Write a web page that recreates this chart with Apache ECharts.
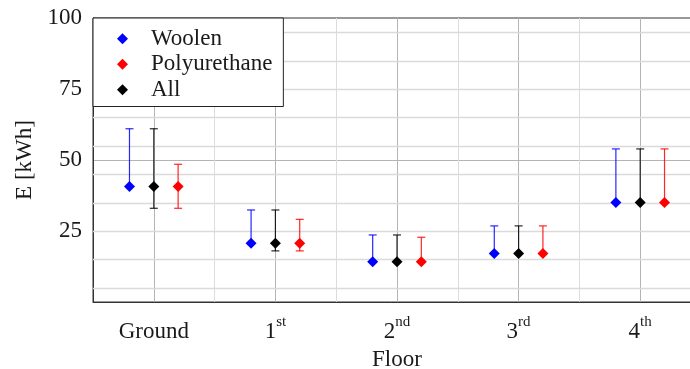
<!DOCTYPE html>
<html>
<head>
<meta charset="utf-8">
<script src="https://cdn.jsdelivr.net/npm/echarts@6/dist/echarts.min.js"></script>
<style>
  html, body { margin: 0; padding: 0; background: #fff; }
  #chart { width: 690px; height: 369px; }
</style>
</head>
<body>
<div id="chart"></div>
<script>
// Floor names (base text + ordinal suffix drawn as superscript)
const floorBase = ['Ground', '1', '2', '3', '4'];
const floorSuffix = ['', 'st', 'nd', 'rd', 'th'];

// Energy per floor [kWh]: mean, lower and upper end of the range
const woolenMean = [40.7, 20.7, 14.2, 17.1, 35.0];
const woolenLow  = [40.7, 20.7, 14.2, 17.1, 35.0];
const woolenHigh = [61.0, 32.4, 23.6, 26.8, 53.9];

const polyMean = [40.7, 20.7, 14.2, 17.1, 35.0];
const polyLow  = [33.0, 18.0, 14.2, 17.1, 35.0];
const polyHigh = [48.5, 29.1, 22.8, 26.8, 53.9];

const allMean = [40.7, 20.7, 14.2, 17.1, 35.0];
const allLow  = [33.0, 18.0, 14.2, 17.1, 35.0];
const allHigh = [61.0, 32.4, 23.6, 26.8, 53.9];

// Value axis ticks and the fine background grid
const yTickLabels = [25, 50, 75, 100];
const yMinorGrid = [5, 15, 25, 35, 45, 55, 65, 75, 85, 95];

const FONT = 'Liberation Serif';
const TEXT = '#1a1a1a';

const groups = [
  { name: 'Woolen',       color: '#0000ff', shift: -0.2, mean: woolenMean, low: woolenLow, high: woolenHigh },
  { name: 'All',          color: '#000000', shift:  0.0, mean: allMean,    low: allLow,    high: allHigh },
  { name: 'Polyurethane', color: '#ff0000', shift:  0.2, mean: polyMean,   low: polyLow,   high: polyHigh }
];

const series = [];

// fine horizontal grid lines
series.push({
  type: 'custom',
  name: 'minor-grid',
  silent: true,
  z: 1,
  data: yMinorGrid.map(v => [-0.5, v]),
  encode: { x: 0, y: 1 },
  renderItem(params, api) {
    const cs = params.coordSys;
    const p = api.coord([api.value(0), api.value(1)]);
    const y = Math.round(p[1]) + 0.5;
    return {
      type: 'line',
      shape: { x1: cs.x, y1: y, x2: cs.x + cs.width, y2: y },
      style: { stroke: '#dadada', lineWidth: 1.5 }
    };
  }
});

groups.forEach(g => {
  const errData = g.mean.map((m, i) => [i + g.shift, g.low[i], g.high[i], m]);
  series.push({
    type: 'custom',
    name: g.name + ' range',
    silent: true,
    z: 3,
    data: errData,
    encode: { x: 0, y: [1, 2] },
    renderItem(params, api) {
      const x = api.value(0);
      const lo = api.value(1), hi = api.value(2), m = api.value(3);
      const pHi = api.coord([x, hi]);
      const pLo = api.coord([x, lo]);
      const cap = 4;
      const st = { stroke: g.color, lineWidth: 1.2, opacity: 0.85 };
      const children = [
        { type: 'line', shape: { x1: pHi[0], y1: pHi[1], x2: pLo[0], y2: pLo[1] }, style: st },
        { type: 'line', shape: { x1: pHi[0] - cap, y1: pHi[1], x2: pHi[0] + cap, y2: pHi[1] }, style: st }
      ];
      if (lo < m) {
        children.push({ type: 'line', shape: { x1: pLo[0] - cap, y1: pLo[1], x2: pLo[0] + cap, y2: pLo[1] }, style: st });
      }
      return { type: 'group', children };
    }
  });
  series.push({
    type: 'scatter',
    name: g.name,
    symbol: 'diamond',
    symbolSize: 11,
    z: 5,
    itemStyle: { color: g.color, opacity: 1 },
    data: g.mean.map((m, i) => [i + g.shift, m])
  });
});

const chart = echarts.init(document.getElementById('chart'), null, { renderer: 'canvas' });
chart.setOption({
  animation: false,
  backgroundColor: '#fff',
  grid: {
    left: 93, top: 18, right: -11, bottom: 67,
    show: true, borderColor: '#333', borderWidth: 1, backgroundColor: 'transparent',
    containLabel: false, outerBoundsMode: 'none'
  },
  legend: {
    data: ['Woolen', 'Polyurethane', 'All'],
    orient: 'vertical',
    left: 93, top: 18,
    icon: 'diamond',
    itemWidth: 11, itemHeight: 11,
    itemGap: 2,
    padding: [9, 11, 5, 24],
    backgroundColor: '#fff',
    borderColor: '#222', borderWidth: 1, borderRadius: 0,
    z: 10,
    textStyle: { fontFamily: FONT, fontSize: 23, color: TEXT, lineHeight: 23.5, padding: [0, 0, 0, 18] }
  },
  xAxis: {
    type: 'value',
    min: -0.5, max: 4.5, interval: 0.5,
    name: 'Floor', nameLocation: 'middle', nameGap: 40,
    nameTextStyle: { fontFamily: FONT, fontSize: 23, color: TEXT, lineHeight: 24 },
    axisLine: { show: true, onZero: false, lineStyle: { color: '#333', width: 1 } },
    axisTick: { show: false },
    splitLine: { show: true, lineStyle: { color: ['#dcdcdc', '#b4b4b4'], width: 1 } },
    axisLabel: {
      margin: 9,
      showMinLabel: false, showMaxLabel: false,
      formatter(v) {
        const i = Math.round(v);
        if (Math.abs(v - i) > 1e-6 || i < 0 || i >= floorBase.length) return '';
        return floorSuffix[i] ? '{n|' + floorBase[i] + '}{s|' + floorSuffix[i] + '}' : '{n|' + floorBase[i] + '}';
      },
      rich: {
        n: { fontFamily: FONT, fontSize: 23, color: TEXT, lineHeight: 32, verticalAlign: 'bottom' },
        s: { fontFamily: FONT, fontSize: 15, color: TEXT, lineHeight: 15, verticalAlign: 'top', padding: [4, 0, 0, 0] }
      }
    }
  },
  yAxis: {
    type: 'value',
    min: 0, max: 100, interval: 25,
    name: 'E [kWh]', nameLocation: 'middle', nameGap: 57, nameRotate: 90,
    nameTextStyle: { fontFamily: FONT, fontSize: 23, color: TEXT },
    axisLine: { show: true, onZero: false, lineStyle: { color: '#333', width: 1 } },
    axisTick: { show: false },
    splitLine: { show: true, showMinLine: false, showMaxLine: false, lineStyle: { color: '#b4b4b4', width: 1 } },
    axisLabel: {
      margin: 11,
      fontFamily: FONT, fontSize: 23, color: TEXT,
      formatter: v => (yTickLabels.indexOf(v) >= 0 ? String(v) : '')
    }
  },
  series
});
</script>
</body>
</html>
